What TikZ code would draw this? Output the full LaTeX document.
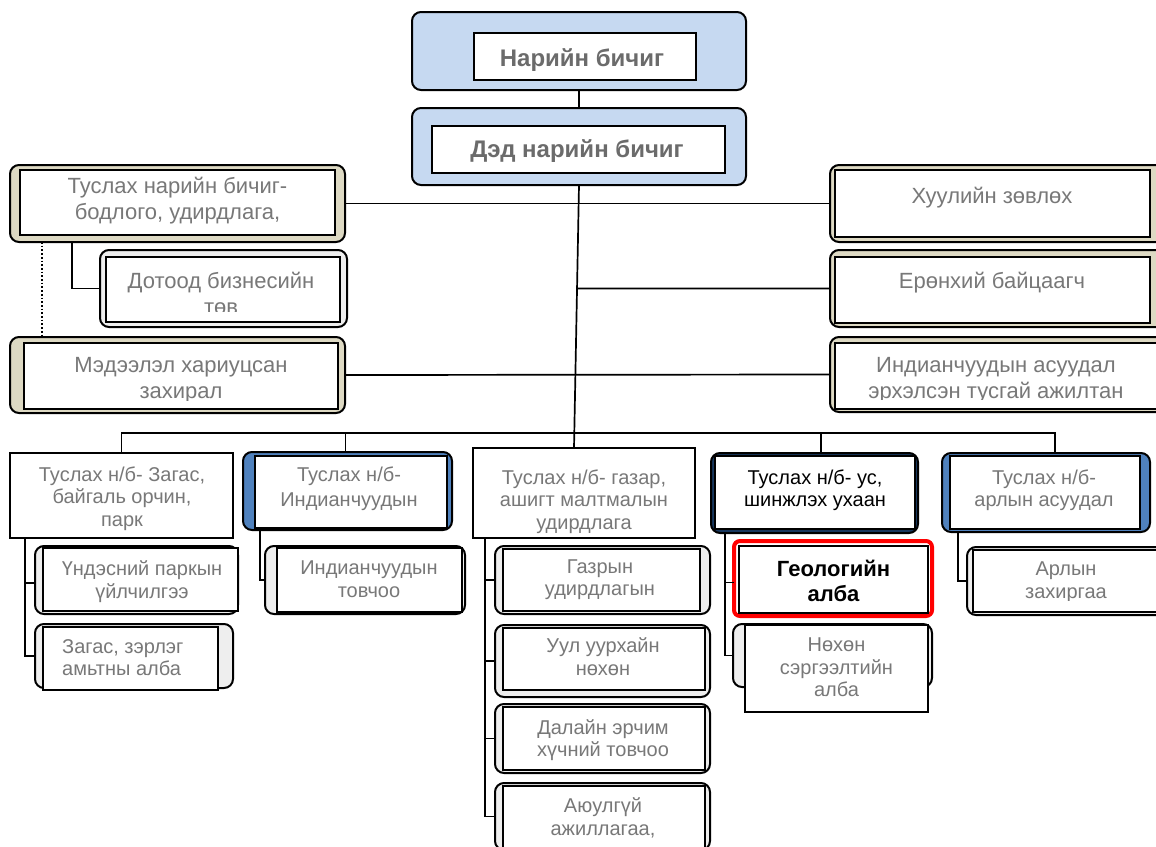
\documentclass[tikz,border=0pt]{standalone}
\usepackage{fontspec}
\setmainfont{Liberation Sans}
\usetikzlibrary{calc}
\definecolor{lblue}{RGB}{198,217,241}
\definecolor{beige}{RGB}{221,217,195}
\definecolor{mblue}{RGB}{79,129,189}
\definecolor{navy}{RGB}{23,55,94}
\definecolor{lgray}{RGB}{238,238,238}
\definecolor{txtgray}{RGB}{120,120,120}
\tikzset{%
    outr/.style={draw=black,line width=2pt,rounded corners=9pt,inner sep=0pt,outer sep=0pt},
    innr/.style={draw=black,line width=1.3pt,fill=white,inner sep=0pt,outer sep=0pt},
    tbase/.style={anchor=north,inner sep=0pt,align=center,text=txtgray,execute at begin node=\strut},
    txt/.style={tbase,font=\fontsize{22}{26}\selectfont,yshift=18.2pt},
    txts/.style={tbase,font=\fontsize{20}{22.5}\selectfont,yshift=15.75pt},
    txtb/.style={tbase,font=\fontsize{24}{28}\selectfont\bfseries,yshift=19.6pt,text=txtgray!110},
    ln/.style={line width=1.7pt}
}

\begin{document}
\begin{tikzpicture}[x=1pt,y=-1pt]
    \useasboundingbox[fill=white] (0,0) rectangle (1156,846);

    % top
    \node[outr,fill=lblue,minimum width=334,minimum height=78] (nb) at (579,51){};
    \node[innr,minimum width=222,minimum height=47] (nb-i) at (585,56.5){};
    \node[txtb] (nb-t) at (582,66.5){Нарийн бичиг};
    \node[outr,fill=lblue,minimum width=334,minimum height=77] (dnb) at (579,146.5){};
    \node[innr,minimum width=293,minimum height=47] (dnb-i) at (578.5,149.5){};
    \node[txtb] (dnb-t) at (577,157){Дэд нарийн бичиг};

    % staff, left
    \node[outr,fill=beige,minimum width=335,minimum height=77] (tnb) at (177.5,203.5){};
    \node[innr,minimum width=315,minimum height=65] (tnb-i) at (177.5,202.5){};
    \node[txt] (tnb-t) at (177.5,195){Туслах нарийн бичиг-\\бодлого, удирдлага,};
    \node[outr,fill=lgray,minimum width=247,minimum height=77] (dbt) at (223.5,288.5){};
    \node[innr,minimum width=234,minimum height=65] (dbt-i) at (223,289.5){};
    \begin{scope}
        \clip (106,257) rectangle (340,311);
        \node[txt] (dbt-t) at (221,290){Дотоод бизнесийн\\төв};
    \end{scope}
    \node[outr,fill=beige,minimum width=335,minimum height=76] (mdl) at (177.5,375){};
    \node[innr,minimum width=314,minimum height=66] (mdl-i) at (181,376){};
    \begin{scope}
        \clip (24,343) rectangle (338,400);
        \node[txt] (mdl-t) at (181,375){Мэдээлэл хариуцсан\\захирал};
    \end{scope}

    % staff, right
    \node[outr,fill=beige,minimum width=336,minimum height=77] (hz) at (998,203.5){};
    \node[innr,minimum width=315,minimum height=67] (hz-i) at (992.5,203.5){};
    \node[txt] (hz-t) at (992,203){Хуулийн зөвлөх};
    \node[outr,fill=beige,minimum width=336,minimum height=77] (erb) at (998,288.5){};
    \node[innr,minimum width=315,minimum height=66] (erb-i) at (992.5,290){};
    \node[txt] (erb-t) at (992,288){Ерөнхий байцаагч};
    \node[outr,fill=beige,minimum width=336,minimum height=75] (ias) at (998,374.5){};
    \node[innr,minimum width=325,minimum height=66] (ias-i) at (997.5,376){};
    \begin{scope}
        \clip (835,343) rectangle (1160,399);
        \node[txt] (ias-t) at (996,375){Индианчуудын асуудал\\эрхэлсэн тусгай ажилтан};
    \end{scope}

    % assistant secretaries
    \node[innr,minimum width=223,minimum height=85] (zpk) at (121.5,495.5){};
    \node[txts] (zpk-t) at (122,482){Туслах н/б- Загас,\\байгаль орчин,\\парк};
    \node[outr,fill=mblue,minimum width=209,minimum height=78] (ind) at (347.5,491){};
    \node[innr,minimum width=192,minimum height=72] (ind-i) at (351,492){};
    \begin{scope}
        \clip (255,456) rectangle (447,516.5);
        \node[txts] (ind-t) at (349,482){Туслах н/б-\\[2.5pt]Индианчуудын\\асуудал};
    \end{scope}
    \node[innr,minimum width=222,minimum height=90] (gaz) at (584,493){};
    \node[txts] (gaz-t) at (584,485){Туслах н/б- газар,\\ашигт малтмалын\\удирдлага};
    \node[outr,fill=navy,minimum width=207,minimum height=80] (us) at (814.5,493){};
    \node[innr,minimum width=200,minimum height=73] (us-i) at (815,492.5){};
    \node[txts,text=black] (us-t) at (815,485){Туслах н/б- ус,\\шинжлэх ухаан};
    \node[outr,fill=mblue,minimum width=208,minimum height=79] (arl) at (1046,492.5){};
    \node[innr,minimum width=190,minimum height=73] (arl-i) at (1045,492.5){};
    \node[txts] (arl-t) at (1044,485){Туслах н/б-\\арлын асуудал};

    % offices
    \node[outr,fill=lgray,minimum width=203,minimum height=68] (unp) at (136.5,580){};
    \node[innr,minimum width=195,minimum height=63] (unp-i) at (140.5,579.5){};
    \node[txts] (unp-t) at (142,576.5){Үндэсний паркын\\үйлчилгээ};
    \node[outr,fill=lgray,minimum width=198,minimum height=64] (zza) at (134,656){};
    \node[innr,minimum width=175,minimum height=63] (zza-i) at (130.5,658.5){};
    \node[txts,anchor=north west,align=left] (zza-t) at (62,655){Загас, зэрлэг\\амьтны алба};
    \node[outr,fill=lgray,minimum width=200,minimum height=68] (int) at (365,580){};
    \node[innr,minimum width=185,minimum height=64] (int-i) at (369.5,580){};
    \node[txts] (int-t) at (369,576.5){Индианчуудын\\товчоо};
    \node[outr,fill=lgray,minimum width=215,minimum height=68] (grd) at (602.5,580){};
    \node[innr,minimum width=197,minimum height=62] (grd-i) at (601.5,580){};
    \node[txts] (grd-t) at (600,575){Газрын\\удирдлагын};
    \node[outr,fill=lgray,minimum width=215,minimum height=72] (uul) at (602.5,661){};
    \node[innr,minimum width=202,minimum height=62] (uul-i) at (604,659){};
    \node[txts] (uul-t) at (603,653.5){Уул уурхайн\\нөхөн};
    \node[outr,fill=lgray,minimum width=215,minimum height=69] (dal) at (602.5,738.5){};
    \node[innr,minimum width=202,minimum height=63] (dal-i) at (604,738.5){};
    \node[txts] (dal-t) at (603,735){Далайн эрчим\\хүчний товчоо};
    \node[outr,fill=lgray,minimum width=215,minimum height=67] (ayu) at (602.5,816.5){};
    \node[innr,minimum width=202,minimum height=74] (ayu-i) at (604,823){};
    \node[txts] (ayu-t) at (603,813.5){Аюулгүй\\ажиллагаа,};
    \node[outr,draw=red,line width=4pt,rounded corners=6pt,fill=white,minimum width=198,minimum height=75] (geo) at (833,578.5){};
    \node[innr,minimum width=189,minimum height=67] (geo-i) at (833.5,579.5){};
    \node[tbase,text=black,font=\fontsize{22}{25}\selectfont\bfseries,yshift=17.5pt] (geo-t) at (833.5,577){Геологийн\\алба};
    \node[outr,fill=lgray,minimum width=199,minimum height=63] (nhn) at (832.5,655.5){};
    \node[innr,minimum width=183,minimum height=87] (nhn-i) at (836.5,668.5){};
    \node[txts] (nhn-t) at (836.5,653.5){Нөхөн\\сэргээлтийн\\алба};
    \node[outr,fill=lgray,minimum width=203,minimum height=68] (arz) at (1068.5,581){};
    \node[innr,minimum width=197,minimum height=62] (arz-i) at (1071.5,581){};
    \begin{scope}
        \clip (973,550) rectangle (1160,600.5);
        \node[txts] (arz-t) at (1066,577.5){Арлын\\захиргаа};
    \end{scope}

    % connectors
    \coordinate (trunk) at (574,448);
    \coordinate (bus) at (574,433);
    \draw[ln] (nb.south) -- (dnb.north);
    \draw[ln] (dnb.south) -- (trunk);
    \draw[ln] (tnb.east) -- (hz.west);
    \draw[ln] (erb.west) -- (intersection of dnb.south--trunk and erb.west--erb.east);
    \draw[ln] (mdl.east) -- (ias.west);
    \draw[ln] ([xshift=62pt]tnb.south west) |- (dbt.west);
    \draw[ln,dotted] ([xshift=32pt]tnb.south west) -- ([xshift=32pt]mdl.north west);
    \draw[ln] (zpk.north) |- (bus) -| ([xshift=9pt]arl.north);
    \draw[ln] ([xshift=-2pt]ind.north) |- (bus);
    \draw[ln] ([xshift=6.5pt]us.north) |- (bus);
    \draw[ln] ([xshift=15pt]zpk.south west) |- ([yshift=-3pt]unp.west);
    \draw[ln] ([xshift=15pt]zpk.south west) |- (zza.west);
    \draw[ln] ([xshift=17pt]ind.south west) |- (int.west);
    \draw[ln] ([xshift=12pt]gaz.south west) |- (grd.west);
    \draw[ln] ([xshift=12pt]gaz.south west) |- (uul.west);
    \draw[ln] ([xshift=12pt]gaz.south west) |- (dal.west);
    \draw[ln] ([xshift=12pt]gaz.south west) |- (ayu.west);
    \draw[ln] ([xshift=14pt]us.south west) |- ([yshift=-4pt]geo.west);
    \draw[ln] ([xshift=14pt]us.south west) |- (nhn.west);
    \draw[ln] ([xshift=16pt]arl.south west) |- (arz.west);
\end{tikzpicture}
\end{document}
